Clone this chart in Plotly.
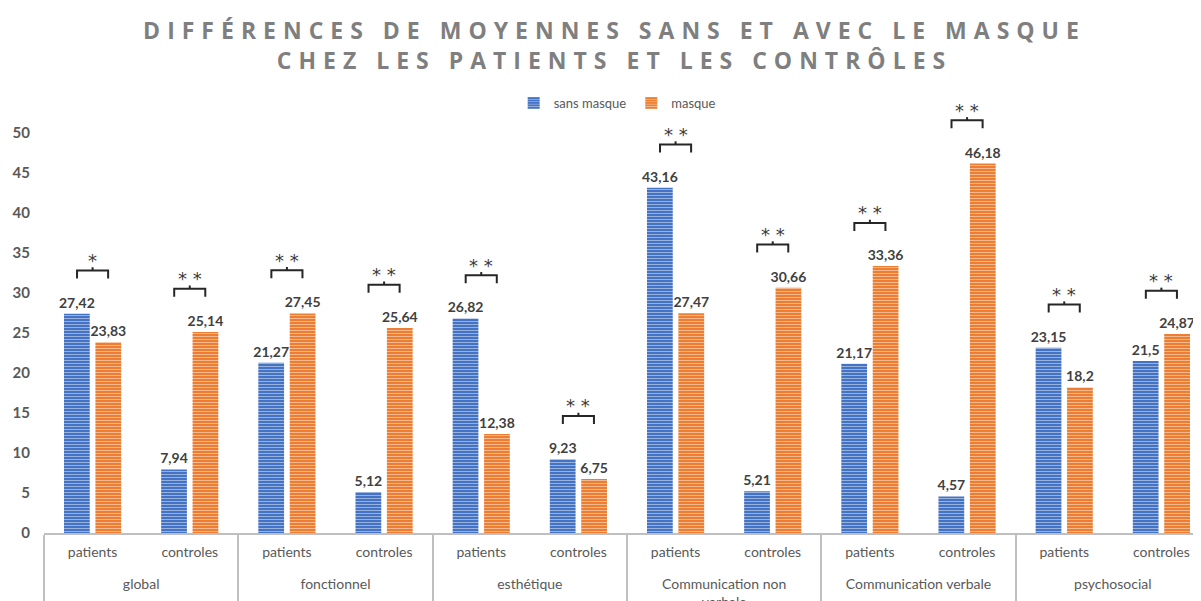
import plotly.graph_objects as go

groups = ["global", "fonctionnel", "esthétique", "Communication non<br>verbale",
          "Communication verbale", "psychosocial"]
subcats = ["patients", "controles"]
sans_masque = [27.42, 7.94, 21.27, 5.12, 26.82, 9.23, 43.16, 5.21, 21.17, 4.57, 23.15, 21.5]
masque = [23.83, 25.14, 27.45, 25.64, 12.38, 6.75, 27.47, 30.66, 33.36, 46.18, 18.2, 24.87]
signif = ["*", "**", "**", "**", "**", "**", "**", "**", "**", "**", "**", "**"]
y_ticks = [0, 5, 10, 15, 20, 25, 30, 35, 40, 45, 50]

# group labels sit one line lower than the sub-category labels
x_groups = ["<br>" + g for g in groups for _ in subcats]
x_cats = [c for _ in groups for c in subcats]

def fmt(v):
    return f"{v:g}".replace(".", ",")

BLUE = "#4472C4"
ORANGE = "#ED7D31"
LABEL = "#404040"
FONT = "Lato, Open Sans, sans-serif"

fig = go.Figure()
for name, vals, col in [("sans masque", sans_masque, BLUE), ("masque", masque, ORANGE)]:
    fig.add_trace(go.Bar(
        x=[x_groups, x_cats], y=vals, name=name,
        marker=dict(color=col, line=dict(width=0),
                    pattern=dict(shape="-", fillmode="overlay", fgcolor="white",
                                 size=3, solidity=0.3)),
        text=[fmt(v) for v in vals], textposition="outside", cliponaxis=False,
        constraintext="none",
        textfont=dict(color=LABEL, size=14, family=FONT, weight="bold"),
    ))

off = 0.16
shapes = []
annotations = []
for i, (a, b, s) in enumerate(zip(sans_masque, masque, signif)):
    lvl = max(a, b) + 5.4
    xl, xr = i - off, i + off
    line = dict(color="#262626", width=2)
    shapes.append(dict(type="path", xref="x", yref="y",
                       path=f"M {xl} {lvl-1.0} L {xl} {lvl} L {xr} {lvl} L {xr} {lvl-1.0}",
                       line=line))
    shapes.append(dict(type="line", xref="x", yref="y", x0=i, x1=i, y0=lvl, y1=lvl + 0.4,
                       line=line))
    annotations.append(dict(x=i, y=lvl - 0.3, xref="x", yref="y", text=" ".join(s),
                            showarrow=False, yanchor="bottom",
                            font=dict(size=18, color="#3A3A3A", family="DejaVu Sans")))

fig.update_layout(
    width=1201, height=601,
    margin=dict(l=36, r=0, t=69, b=76),
    paper_bgcolor="white", plot_bgcolor="white",
    bargap=0.3535, bargroupgap=0.18,
    title=dict(
        text='<span style="letter-spacing:7px">DIFFÉRENCES DE MOYENNES SANS ET AVEC LE MASQUE<br>CHEZ LES PATIENTS ET LES CONTRÔLES</span>',
        x=0.505, xanchor="center", y=0.948, yanchor="top",
        font=dict(size=23, color="#7F7F7F", family="Open Sans", weight="bold"),
    ),
    legend=dict(orientation="h", x=0.492, xanchor="center", y=0.943, yanchor="middle",
                font=dict(size=13, color="#595959", family=FONT), itemwidth=30,
                bgcolor="rgba(0,0,0,0)"),
    xaxis=dict(type="multicategory", range=[-0.5, 11.49], showline=True,
               linecolor="#BFBFBF", linewidth=2, showgrid=False, automargin=False,
               showdividers=True, dividercolor="#BFBFBF", dividerwidth=2,
               ticklabelstandoff=5,
               tickfont=dict(size=14, color="#595959", family=FONT), ticks=""),
    yaxis=dict(range=[0, 57], tickvals=y_ticks, showgrid=False, zeroline=False,
               showline=False, automargin=False, ticklabelstandoff=13,
               tickfont=dict(size=15, color="#595959", family=FONT, weight="bold")),
    shapes=shapes, annotations=annotations,
    font=dict(family=FONT),
)

fig.write_html("out.html")
